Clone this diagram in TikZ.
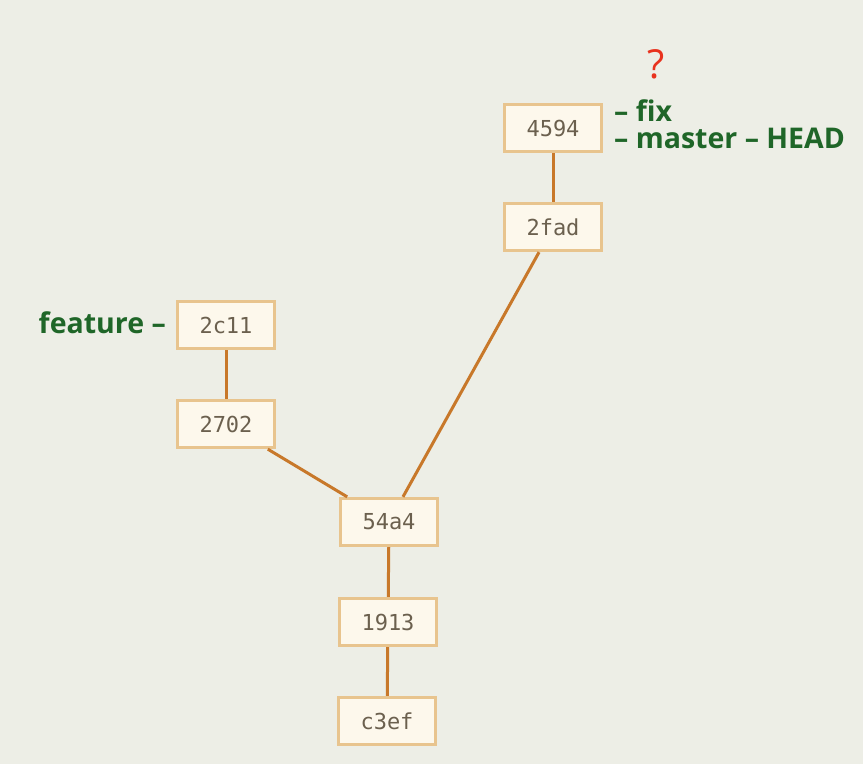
\documentclass[tikz,border=0pt]{standalone}
\usepackage{fontspec}
\setmainfont{Open Sans}
\setmonofont{DejaVu Sans Mono}
\definecolor{bg}{HTML}{EDEEE6}
\definecolor{boxfill}{HTML}{FDF8EC}
\definecolor{boxline}{HTML}{E8C48E}
\definecolor{edge}{HTML}{C8782A}
\definecolor{hash}{HTML}{6B604E}
\definecolor{lbl}{HTML}{1F6628}
\definecolor{qred}{HTML}{E8321E}
\begin{document}
\begin{tikzpicture}[x=1pt,y=-1pt,
  commit/.style={draw=boxline, fill=boxfill, line width=2.8pt, minimum width=97.5pt, minimum height=47.5pt, inner sep=0pt, font=\ttfamily\fontsize{22}{26}\selectfont, text=hash},
  link/.style={draw=edge, line width=3pt},
  branch/.style={text=lbl, font=\bfseries\fontsize{28.5}{30}\selectfont, inner sep=0pt}]
\fill[bg] (0,0) rectangle (863,764);
\useasboundingbox (0,0) rectangle (863,764);
\node[commit] (c4594) at (553,128) {4594};
\node[commit] (c2fad) at (553,227) {2fad};
\node[commit] (c2c11) at (226,325) {2c11};
\node[commit] (c2702) at (226,424) {2702};
\node[commit] (c54a4) at (389,522) {54a4};
\node[commit] (c1913) at (388,622) {1913};
\node[commit] (c3ef) at (387,721) {c3ef};
\draw[link] (c4594) -- (c2fad);
\draw[link] (c2fad) -- (c54a4);
\draw[link] (c2c11) -- (c2702);
\draw[link] (c2702) -- (c54a4);
\draw[link] (c54a4) -- (c1913);
\draw[link] (c1913) -- (c3ef);
\node[branch, anchor=base west] (lfix) at (614,121) {– fix};
\node[branch, anchor=base west] (lmaster) at (614,148) {– master – HEAD};
\node[branch, anchor=base east] (lfeat) at (166,333) {feature –};
\node[text=qred, font=\fontsize{40}{42}\selectfont, inner sep=0pt, anchor=base] (q) at (656,78) {?};
\end{tikzpicture}
\end{document}
